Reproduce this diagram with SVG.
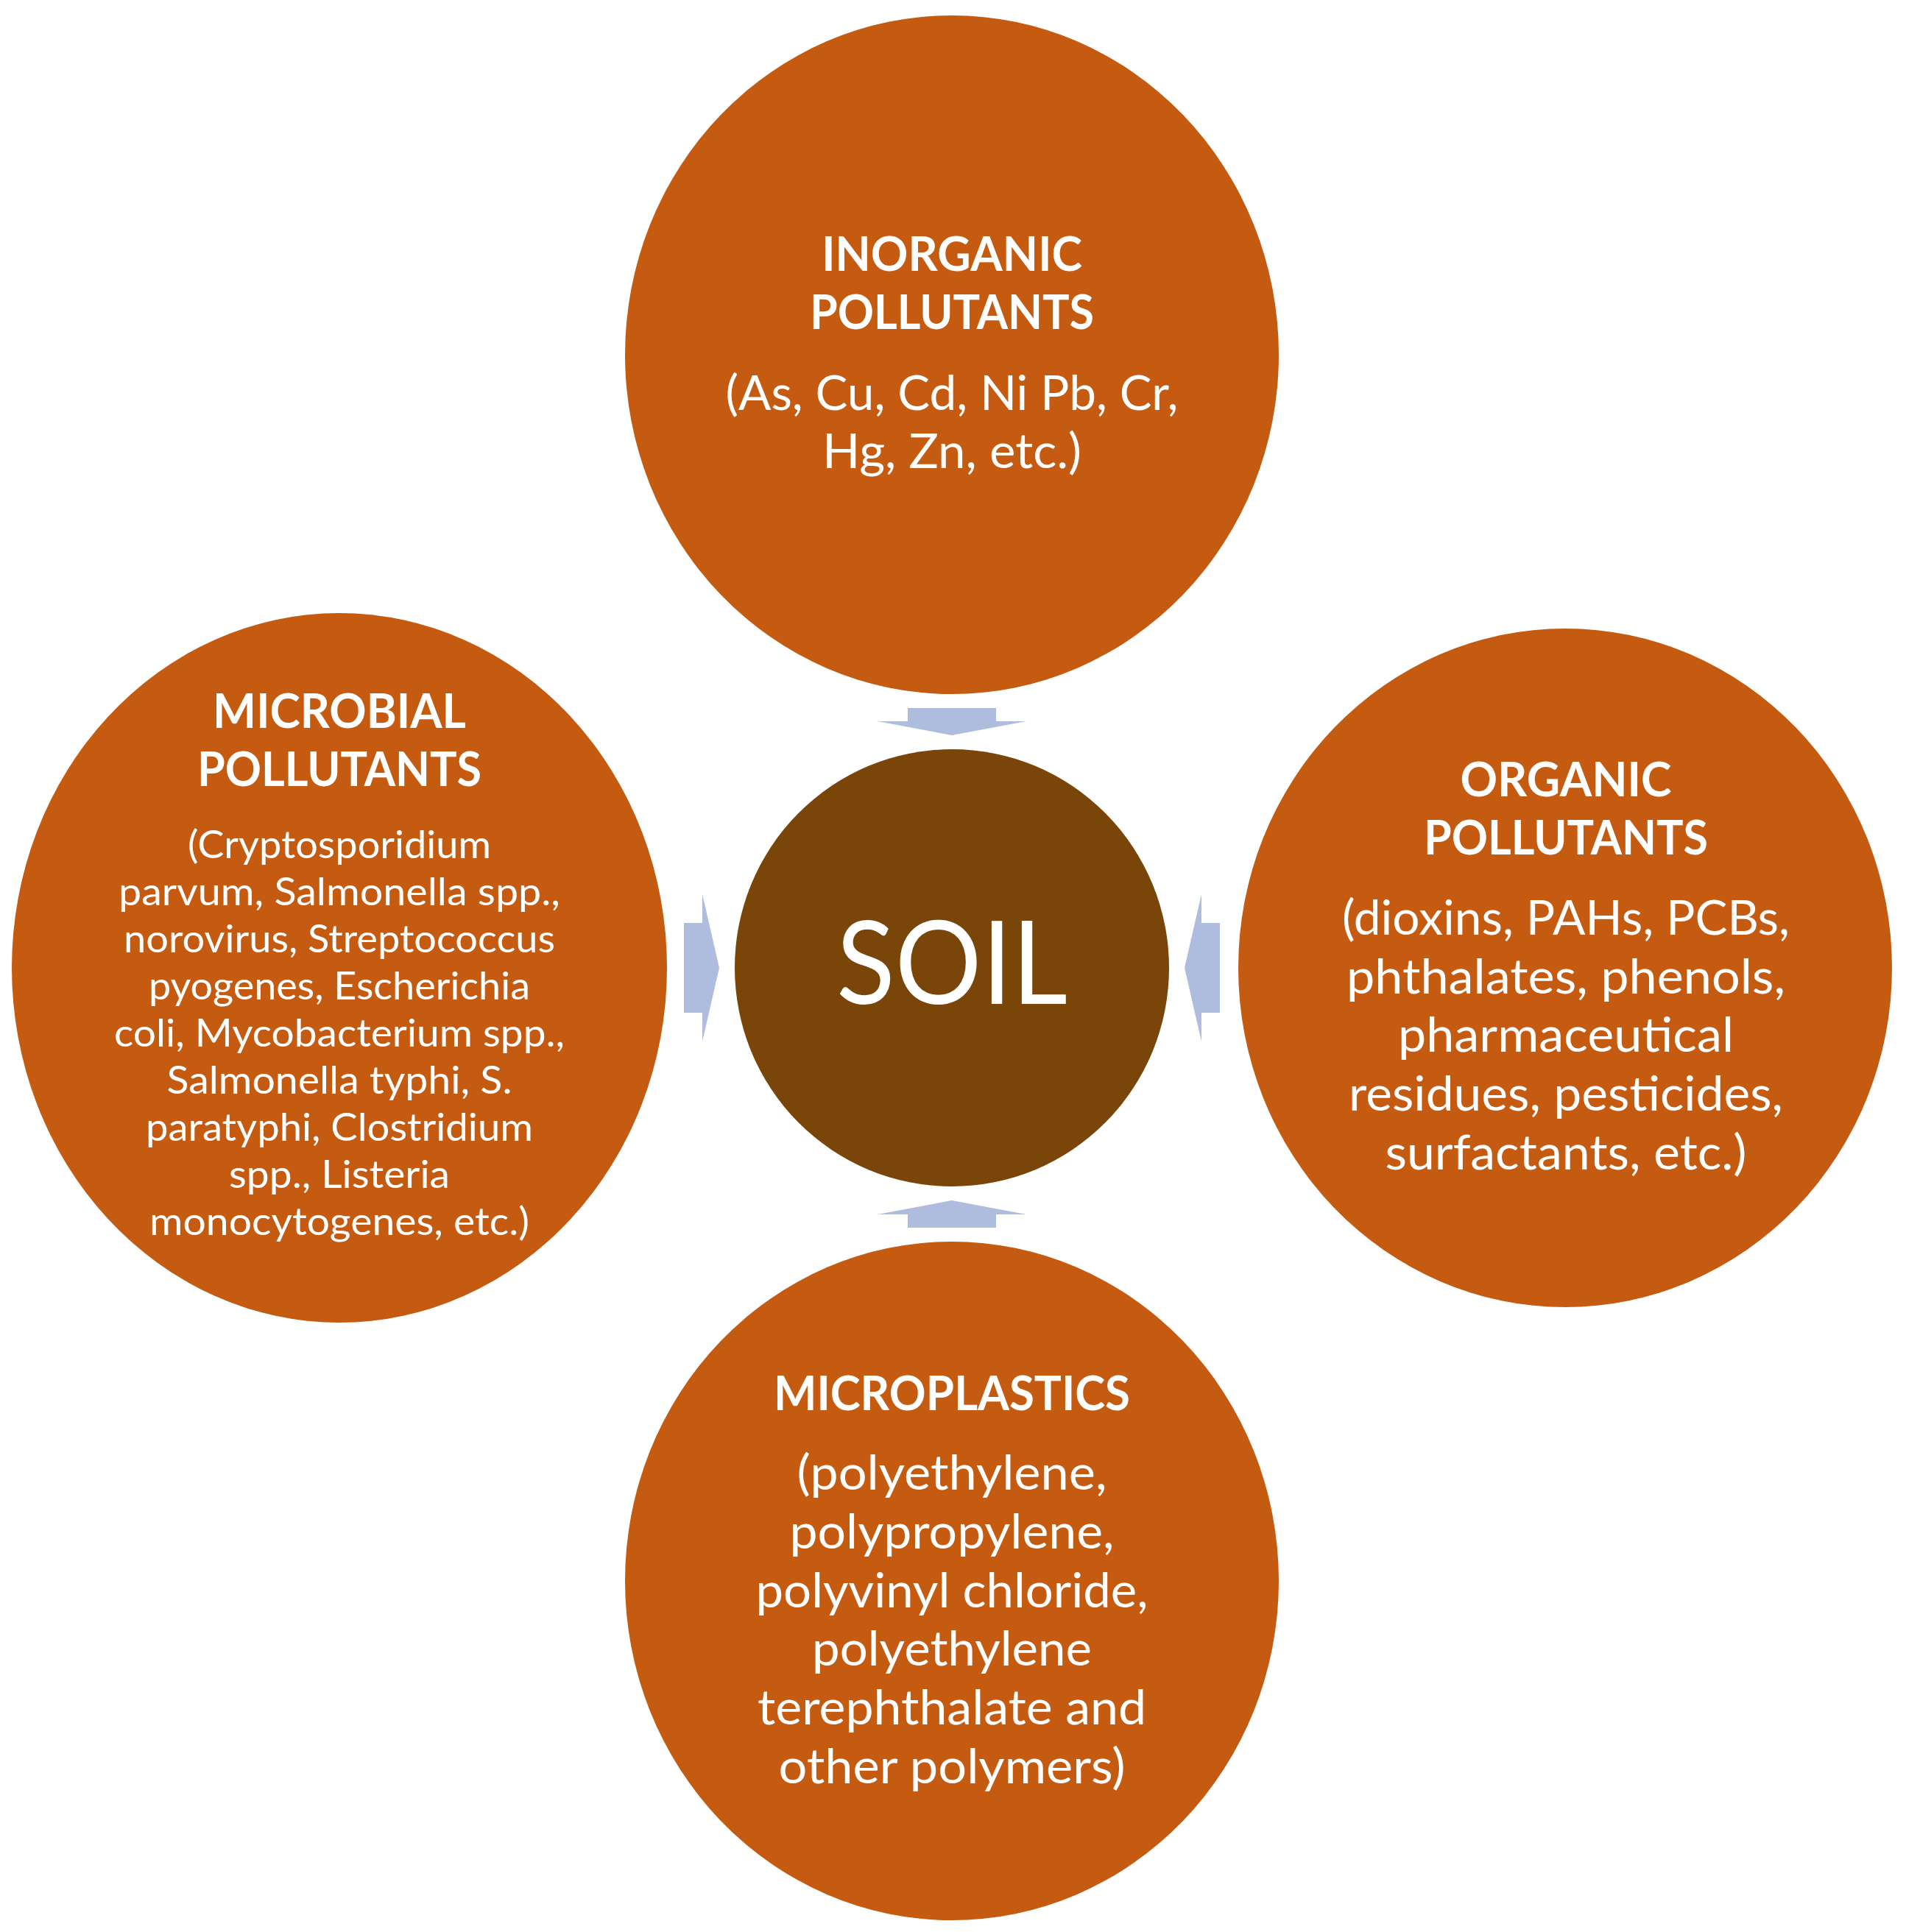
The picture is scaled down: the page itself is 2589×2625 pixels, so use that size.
<svg xmlns="http://www.w3.org/2000/svg" width="2589" height="2625" viewBox="0 0 2589 2625">
<style>
.pc{fill:#C55A11}
.soil{fill:#7A4508}
.arr{fill:#AEBCDE}
text{fill:#FFFFFF;font-family:Lato,"Open Sans","Liberation Sans",sans-serif;text-anchor:middle}
.h{font-weight:bold;font-size:65px}
.b{font-size:65px}
.s{font-size:53px}
.soilt{font-size:157px}
</style>
<rect width="2589" height="2625" fill="#FFFFFF"/>
<g id="connectors">
<polygon class="arr" points="1233,962 1353,962 1353,980 1394,980 1293,999 1192,980 1233,980"/>
<polygon class="arr" points="1233,1668 1353,1668 1353,1650 1394,1650 1293,1631 1192,1650 1233,1650"/>
<polygon class="arr" points="1657,1254 1657,1376 1632,1376 1632,1415 1609,1315 1632,1215 1632,1254"/>
<polygon class="arr" points="929,1254 929,1376 954,1376 954,1415 977,1315 954,1215 954,1254"/>
</g>
<g id="inorganic">
<ellipse class="pc" cx="1293" cy="482" rx="444" ry="461"/>
<text class="h" x="1293" y="368" textLength="354" lengthAdjust="spacingAndGlyphs">INORGANIC</text>
<text class="h" x="1293" y="447" textLength="386" lengthAdjust="spacingAndGlyphs">POLLUTANTS</text>
<text class="b" x="1293" y="557" textLength="615" lengthAdjust="spacingAndGlyphs">(As, Cu, Cd, Ni Pb, Cr,</text>
<text class="b" x="1293" y="636" textLength="352" lengthAdjust="spacingAndGlyphs">Hg, Zn, etc.)</text>
</g>
<g id="organic">
<ellipse class="pc" cx="2126" cy="1315" rx="444" ry="461"/>
<text class="h" x="2127" y="1082" textLength="287" lengthAdjust="spacingAndGlyphs">ORGANIC</text>
<text class="h" x="2127" y="1161" textLength="386" lengthAdjust="spacingAndGlyphs">POLLUTANTS</text>
<text class="b" x="2127" y="1270" textLength="608" lengthAdjust="spacingAndGlyphs">(dioxins, PAHs, PCBs,</text>
<text class="b" x="2127" y="1350" textLength="596" lengthAdjust="spacingAndGlyphs">phthalates, phenols,</text>
<text class="b" x="2127" y="1429" textLength="456" lengthAdjust="spacingAndGlyphs">pharmaceutical</text>
<text class="b" x="2127" y="1509" textLength="590" lengthAdjust="spacingAndGlyphs">residues, pesticides,</text>
<text class="b" x="2127" y="1589" textLength="491" lengthAdjust="spacingAndGlyphs">surfactants, etc.)</text>
</g>
<g id="microplastics">
<ellipse class="pc" cx="1293" cy="2148" rx="444" ry="461"/>
<text class="h" x="1293" y="1916" textLength="484" lengthAdjust="spacingAndGlyphs">MICROPLASTICS</text>
<text class="b" x="1293" y="2024" textLength="421" lengthAdjust="spacingAndGlyphs">(polyethylene,</text>
<text class="b" x="1293" y="2104" textLength="441" lengthAdjust="spacingAndGlyphs">polypropylene,</text>
<text class="b" x="1293" y="2184" textLength="533" lengthAdjust="spacingAndGlyphs">polyvinyl chloride,</text>
<text class="b" x="1293" y="2263" textLength="380" lengthAdjust="spacingAndGlyphs">polyethylene</text>
<text class="b" x="1293" y="2343" textLength="528" lengthAdjust="spacingAndGlyphs">terephthalate and</text>
<text class="b" x="1293" y="2423" textLength="471" lengthAdjust="spacingAndGlyphs">other polymers)</text>
</g>
<g id="microbial">
<ellipse class="pc" cx="461" cy="1315" rx="445" ry="482"/>
<text class="h" x="461" y="989" textLength="344" lengthAdjust="spacingAndGlyphs">MICROBIAL</text>
<text class="h" x="461" y="1068" textLength="386" lengthAdjust="spacingAndGlyphs">POLLUTANTS</text>
<text class="s" x="461" y="1166" textLength="412" lengthAdjust="spacingAndGlyphs">(Cryptosporidium</text>
<text class="s" x="461" y="1230" textLength="600" lengthAdjust="spacingAndGlyphs">parvum, Salmonella spp.,</text>
<text class="s" x="461" y="1294" textLength="586" lengthAdjust="spacingAndGlyphs">norovirus, Streptococcus</text>
<text class="s" x="461" y="1358" textLength="518" lengthAdjust="spacingAndGlyphs">pyogenes, Escherichia</text>
<text class="s" x="461" y="1422" textLength="612" lengthAdjust="spacingAndGlyphs">coli, Mycobacterium spp.,</text>
<text class="s" x="461" y="1486" textLength="469" lengthAdjust="spacingAndGlyphs">Salmonella typhi, S.</text>
<text class="s" x="461" y="1550" textLength="526" lengthAdjust="spacingAndGlyphs">paratyphi, Clostridium</text>
<text class="s" x="461" y="1614" textLength="300" lengthAdjust="spacingAndGlyphs">spp., Listeria</text>
<text class="s" x="461" y="1678" textLength="516" lengthAdjust="spacingAndGlyphs">monocytogenes, etc.)</text>
</g>
<g id="soil">
<ellipse class="soil" cx="1293" cy="1315" rx="295" ry="297"/>
<text class="soilt" x="1293" y="1364" textLength="314" lengthAdjust="spacingAndGlyphs">SOIL</text>
</g>
</svg>
